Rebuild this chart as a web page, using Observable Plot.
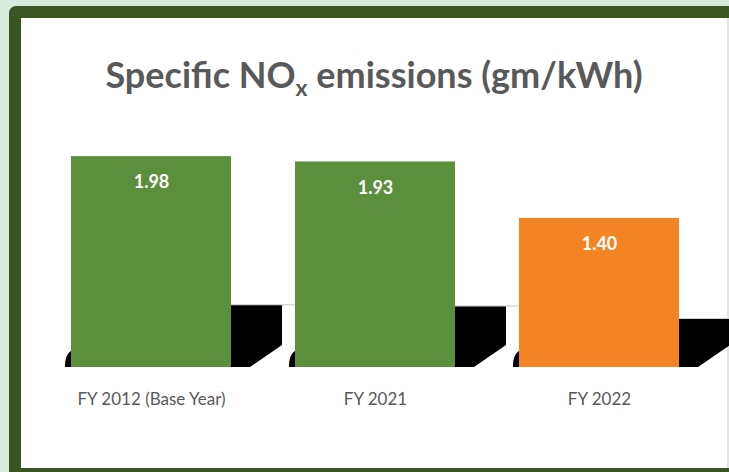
<!DOCTYPE html>
<html>
<head>
<meta charset="utf-8">
<script src="https://cdn.jsdelivr.net/npm/d3@7"></script>
<script src="https://cdn.jsdelivr.net/npm/@observablehq/plot@0.6"></script>
<style>
  html, body { margin: 0; padding: 0; }
  body { width: 729px; height: 472px; overflow: hidden; background: #d7ebdd; position: relative; font-family: Lato, "Open Sans", sans-serif; }
  #panel { position: absolute; left: 9px; top: 6px; width: 740px; height: 474px; box-sizing: border-box; border: 12px solid #3a5723; border-radius: 7px; background: #fff; }
  #edge { position: absolute; left: 727px; top: 18px; width: 2px; height: 450px; background: #e4e4e4; }
  #title { position: absolute; left: 21px; width: 706px; top: 52px; text-align: center; font-weight: 700; font-size: 36px; color: #595959; white-space: nowrap; }
  #title sub { font-size: 23px; vertical-align: -8px; line-height: 0; }
  #chart { position: absolute; left: 0; top: 0; }
</style>
</head>
<body>
<div id="panel"></div>
<div id="edge"></div>
<div id="title">Specific NO<sub>x</sub> emissions (gm/kWh)</div>
<div id="chart"></div>
<script>
const categories = ["FY 2012 (Base Year)", "FY 2021", "FY 2022"];
const values = [1.98, 1.93, 1.40];
const labels = ["1.98", "1.93", "1.40"];
const barColors = ["#5b8f3b", "#5b8f3b", "#f38423"];

const data = categories.map((c, i) => ({ category: c, value: values[i], label: labels[i], color: barColors[i] }));

const shadowTop = (d) => 0.136 + 0.224 * d.value;

const shadow = Plot.barY(data, {
  x: "category",
  y1: 0,
  y2: shadowTop,
  fill: "#000",
  render(index, scales, vals, dimensions, context, next) {
    const g = next(index, scales, vals, dimensions, context);
    const ns = "http://www.w3.org/2000/svg";
    g.querySelectorAll("rect").forEach((r) => {
      const x = +r.getAttribute("x"), y = +r.getAttribute("y");
      const w = +r.getAttribute("width"), h = +r.getAttribute("height");
      const right = x + w, base = y + h;
      const p = document.createElementNS(ns, "path");
      p.setAttribute("d",
        `M${right},${y}H${right + 51}V${base - 22}L${right + 19},${base}H${right}Z` +
        `M${x - 6},${base}H${x}V${base - 16}C${x - 5},${base - 13} ${x - 6},${base - 6} ${x - 6},${base}Z`);
      p.setAttribute("fill", "#000");
      const l = document.createElementNS(ns, "path");
      l.setAttribute("d", `M${right},${y - 0.5}H${right + 64}`);
      l.setAttribute("stroke", "#c8c8c8");
      l.setAttribute("fill", "none");
      r.parentNode.insertBefore(l, r);
      r.parentNode.insertBefore(p, r);
      r.remove();
    });
    return g;
  }
});

const chart = Plot.plot({
  width: 729,
  height: 472,
  marginTop: 154,
  marginBottom: 105,
  marginLeft: 39,
  marginRight: 18,
  style: { background: "transparent", fontFamily: "Lato, 'Open Sans', sans-serif", overflow: "visible" },
  x: { domain: categories, paddingInner: 64 / 224, paddingOuter: 32 / 224, label: null },
  y: { domain: [0, 2], axis: null },
  marks: [
    shadow,
    Plot.barY(data, { x: "category", y: "value", fill: "color" }),
    Plot.text(data, { x: "category", y: "value", text: "label", dy: 26, fill: "#fff", fontWeight: "bold", fontSize: 18 }),
    Plot.axisX({ tickSize: 0, tickPadding: 25, fontSize: 17, color: "#595959", label: null })
  ]
});
document.getElementById("chart").append(chart);
</script>
</body>
</html>
